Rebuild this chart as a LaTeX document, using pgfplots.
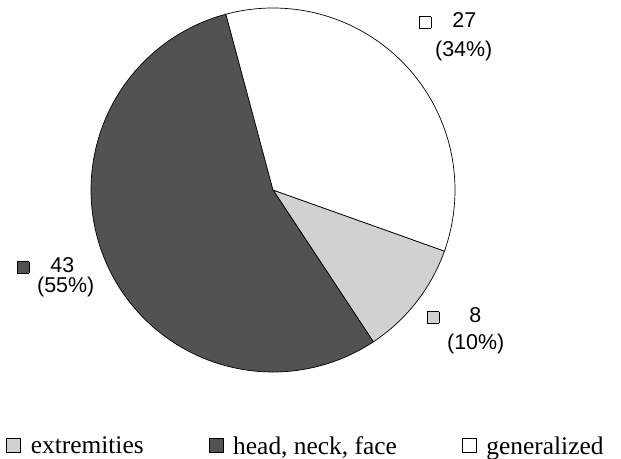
\documentclass[border=0pt]{standalone}
\usepackage{fontspec}
\setmainfont{Liberation Serif}
\newfontfamily\arialf{Liberation Sans}
\usepackage{pgfplots}
\pgfplotsset{compat=1.18}
\definecolor{darkslice}{gray}{0.32}
\definecolor{lightslice}{gray}{0.82}
% data: counts per category
\def\vExt{8}
\def\vHead{43}
\def\vGen{27}
\pgfmathsetmacro\vTot{\vExt+\vHead+\vGen}
\pgfmathsetmacro\aStart{105}
\pgfmathsetmacro\aGenEnd{\aStart-360*\vGen/\vTot}
\pgfmathsetmacro\aExtEnd{\aGenEnd-360*\vExt/\vTot}
\pgfmathsetmacro\aHeadEnd{\aExtEnd+360}
\newcommand{\keybox}[1]{{\setlength\fboxsep{0pt}\setlength\fboxrule{0.6pt}\fcolorbox{black}{#1}{\rule{0pt}{11bp}\hspace{11bp}}}}
\begin{document}
\begin{tikzpicture}
\begin{axis}[
  width=621bp, height=459bp, scale only axis,
  xmin=0, xmax=621, ymin=0, ymax=459,
  hide axis, clip=false,
  legend columns=3,
  legend style={at={(axis cs:6,1)}, anchor=south west, draw=none, fill=none,
    inner sep=0pt, font=\fontsize{25.5}{27}\selectfont,
    /tikz/every odd column/.append style={column sep=8bp},
    /tikz/every even column/.append style={column sep=63bp}},
  legend image code/.code={\draw[#1,draw=black,line width=0.6pt] (0bp,-6bp) rectangle (14bp,8bp);},
]
\addplot[forget plot, draw=none] coordinates {(0,0) (621,459)};
\addplot[fill=lightslice, draw=black, line width=0.7pt, domain=\aExtEnd:\aGenEnd, samples=60, variable=\t]
  ({273+182*cos(t)},{269+182*sin(t)}) -- (axis cs:273,269) -- cycle;
\addlegendentry{extremities}
\addplot[fill=darkslice, draw=black, line width=0.7pt, domain=\aStart:\aHeadEnd, samples=200, variable=\t]
  ({273+182*cos(t)},{269+182*sin(t)}) -- (axis cs:273,269) -- cycle;
\addlegendentry{head, neck, face}
\addplot[fill=white, draw=black, line width=0.7pt, domain=\aGenEnd:\aStart, samples=120, variable=\t]
  ({273+182*cos(t)},{269+182*sin(t)}) -- (axis cs:273,269) -- cycle;
\addlegendentry{generalized}
% slice labels
\begin{scope}[every node/.style={font=\arialf\fontsize{21.5}{23}\selectfont, inner sep=0pt}]
\node[anchor=base west] at (axis cs:419,431) {\keybox{white}\hspace{21bp}27};
\node[anchor=base west] at (axis cs:435,402) {(34\%)};
\node[anchor=base west] at (axis cs:17,186) {\keybox{darkslice}\hspace{21bp}43};
\node[anchor=base west] at (axis cs:37,166) {(55\%)};
\node[anchor=base west] at (axis cs:427,136) {\keybox{lightslice}\hspace{30bp}8};
\node[anchor=base west] at (axis cs:447,109) {(10\%)};
\end{scope}
\end{axis}
\end{tikzpicture}
\end{document}
